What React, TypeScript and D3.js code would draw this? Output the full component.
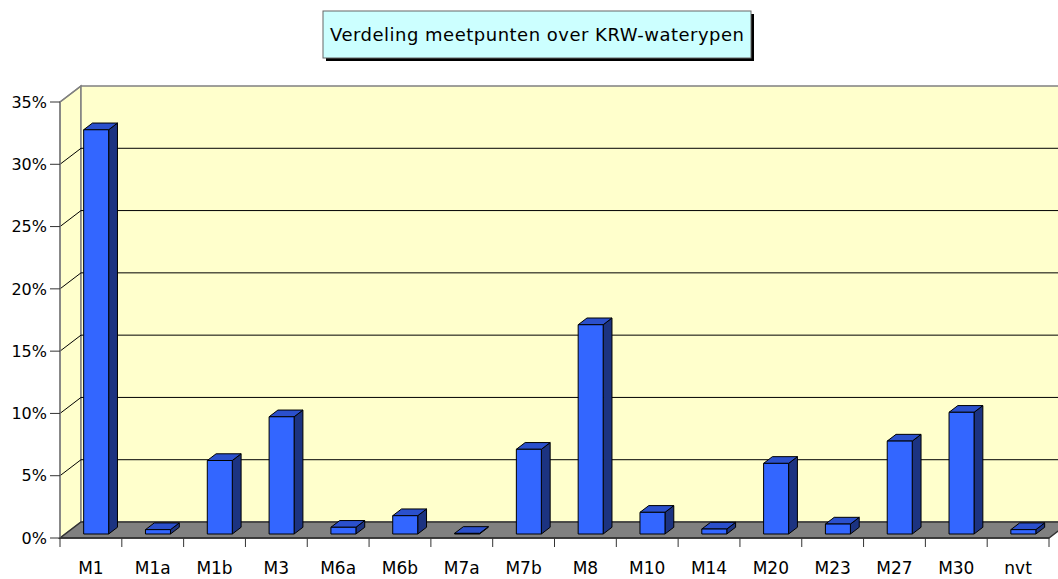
import React from "react";
import * as d3 from "d3";

const categories = ["M1", "M1a", "M1b", "M3", "M6a", "M6b", "M7a", "M7b", "M8", "M10", "M14", "M20", "M23", "M27", "M30", "nvt"];
const values = [32.45, 0.35, 5.9, 9.41, 0.54, 1.47, 0.05, 6.8, 16.8, 1.74, 0.4, 5.67, 0.8, 7.46, 9.77, 0.35];
const yTicks = [0, 5, 10, 15, 20, 25, 30, 35];
const title = "Verdeling meetpunten over KRW-waterypen";

const W = 1058;
const H = 579;
const FONT = "'Comic Sans MS', 'DejaVu Sans', sans-serif";

export default function App() {
  const x0 = 60;
  const x1 = 1049;
  const y0 = 538;
  const yTop = 102;
  const DX = 21;
  const DY = -16;

  const x = d3.scaleBand<string>().domain(categories).range([x0, x1]).paddingInner(0).paddingOuter(0);
  const y = d3.scaleLinear().domain([0, 35]).range([y0, yTop]);

  const f1 = 0.25;
  const f2 = 0.67;
  const barW = 25;

  const pts = (arr: [number, number][]) => arr.map((p) => p.join(",")).join(" ");

  const backL = x0 + DX;
  const backR = x1 + DX;

  return (
    <svg width={W} height={H} style={{ position: "absolute", left: 0, top: 0, background: "#fff" }} fontFamily={FONT}>
      {/* Title */}
      <rect x={326} y={14} width={428} height={47} fill="#000" />
      <rect x={323} y={11} width={428} height={47} fill="#CCFFFF" stroke="#666" strokeWidth={1} />
      <text x={537} y={41} textAnchor="middle" fontSize={18} fill="#000" textLength={414} lengthAdjust="spacing">
        {title}
      </text>

      {/* Left wall */}
      <polygon points={pts([[x0, y0], [x0, yTop], [backL, yTop + DY], [backL, y0 + DY]])} fill="#FFFFCC" stroke="#808080" strokeWidth={1.5} />
      {/* Back wall */}
      <polygon points={pts([[backL, yTop + DY], [backR, yTop + DY], [backR, y0 + DY], [backL, y0 + DY]])} fill="#FFFFCC" stroke="#808080" strokeWidth={1.5} />
      {/* Floor */}
      <polygon points={pts([[x0, y0], [x1, y0], [backR, y0 + DY], [backL, y0 + DY]])} fill="#808080" stroke="#333" strokeWidth={1.5} />

      {/* Gridlines */}
      {yTicks.filter((t) => t > 0 && t < 35).map((t) => (
        <g key={"g" + t}>
          <line x1={x0} y1={y(t)} x2={backL} y2={y(t) + DY} stroke="#000" strokeWidth={1} />
          <line x1={backL} y1={y(t) + DY} x2={backR} y2={y(t) + DY} stroke="#000" strokeWidth={1} />
        </g>
      ))}
      <line x1={x0} y1={yTop} x2={backL} y2={yTop + DY} stroke="#808080" strokeWidth={1.5} />

      {/* Y axis */}
      <line x1={x0} y1={yTop} x2={x0} y2={y0} stroke="#808080" strokeWidth={1.5} />
      {yTicks.map((t) => (
        <g key={"t" + t}>
          <line x1={x0 - 10} y1={y(t)} x2={x0} y2={y(t)} stroke="#333" strokeWidth={1} />
          <text x={47} y={y(t)} dy="0.36em" textAnchor="end" fontSize={16} fill="#000">
            {t + "%"}
          </text>
        </g>
      ))}

      {/* X axis */}
      <line x1={x0} y1={y0} x2={x1} y2={y0} stroke="#333" strokeWidth={1.5} />
      {[...categories.map((c) => x(c) as number), x1].map((px, i) => (
        <line key={"xt" + i} x1={px} y1={y0} x2={px} y2={y0 + 9} stroke="#333" strokeWidth={1} />
      ))}
      {categories.map((c) => (
        <text key={"xl" + c} x={(x(c) as number) + x.bandwidth() / 2} y={574} textAnchor="middle" fontSize={17} fill="#000">
          {c}
        </text>
      ))}

      {/* Bars */}
      {categories.map((c, i) => {
        const v = values[i];
        const cx = (x(c) as number) + x.bandwidth() / 2;
        const fl = cx + f1 * DX - barW / 2;
        const fr = fl + barW;
        const fb = y(0) + f1 * DY;
        const ft = y(v) + f1 * DY;
        const ddx = (f2 - f1) * DX;
        const ddy = (f2 - f1) * DY;
        return (
          <g key={"b" + c} stroke="#000" strokeWidth={1} strokeLinejoin="round">
            <polygon points={pts([[fr, fb], [fr, ft], [fr + ddx, ft + ddy], [fr + ddx, fb + ddy]])} fill="#1C3381" />
            <polygon points={pts([[fl, ft], [fr, ft], [fr + ddx, ft + ddy], [fl + ddx, ft + ddy]])} fill="#2B50CC" />
            <rect x={fl} y={ft} width={barW} height={Math.max(0, fb - ft)} fill="#3366FF" />
          </g>
        );
      })}
    </svg>
  );
}
